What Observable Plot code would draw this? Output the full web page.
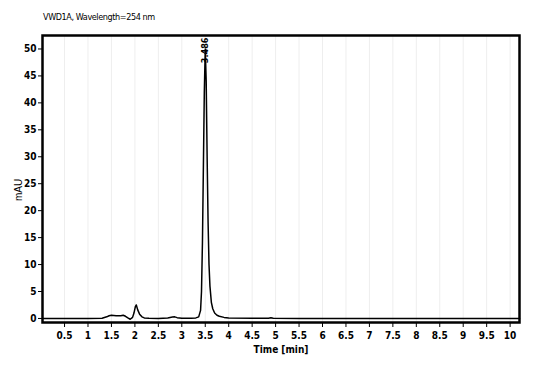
<!DOCTYPE html>
<html><head><meta charset="utf-8">
<script src="https://cdn.jsdelivr.net/npm/d3@7"></script>
<script src="https://cdn.jsdelivr.net/npm/@observablehq/plot@0.6"></script>
<style>
body{margin:0;background:#fff;}
#wrap{position:relative;width:544px;height:383px;}
#title{position:absolute;left:43px;top:12px;font:9px "DejaVu Sans Condensed","Liberation Sans Narrow",sans-serif;font-stretch:condensed;color:#000;letter-spacing:-0.4px;}
</style></head>
<body><div id="wrap"><div id="title">VWD1A, Wavelength=254 nm</div></div>
<script>
const times = [0.03,0.5,1.0,1.3,1.4,1.45,1.5,1.6,1.7,1.75,1.8,1.85,1.9,1.95,1.98,2.01,2.03,2.06,2.1,2.15,2.2,2.3,2.5,2.7,2.8,2.85,2.9,3.0,3.2,3.3,3.36,3.4,3.42,3.44,3.46,3.48,3.5,3.52,3.54,3.56,3.58,3.6,3.63,3.66,3.7,3.75,3.8,3.9,4.0,4.5,4.85,4.9,4.95,5.5,6.5,7.5,8.5,9.5,10.2];
const mAU  = [0.0,0.0,0.0,0.05,0.3,0.5,0.6,0.5,0.5,0.6,0.4,0.1,-0.15,0.2,1.0,2.2,2.5,1.6,0.8,0.3,0.1,0.05,0.0,0.1,0.25,0.3,0.15,0.05,0.05,0.1,0.3,1.5,5,14,28,42,50,44,30,18,10,6,3,1.8,1.0,0.6,0.4,0.2,0.1,0.05,0.05,0.15,0.05,0.0,0.0,0.0,0.0,0.0,0.0];
const xTicks = [0.5,1,1.5,2,2.5,3,3.5,4,4.5,5,5.5,6,6.5,7,7.5,8,8.5,9,9.5,10];
const yTicks = [0,5,10,15,20,25,30,35,40,45,50];
const peakTime = [3.5];
const peakLabel = ["3.486"];

const data = times.map((t,i)=>({t, v:mAU[i]}));
const font = '"DejaVu Sans Condensed","Liberation Sans Narrow",sans-serif';
const chart = Plot.plot({
  width:544, height:383,
  marginLeft:42, marginRight:25, marginTop:35, marginBottom:61,
  style:{fontFamily:font, fontSize:"10px", color:"#000", background:"transparent"},
  x:{domain:[0.03,10.2], ticks:xTicks, tickSize:5, tickPadding:4, tickFormat:d=>String(d), label:null},
  y:{domain:[-0.75,52.5], ticks:yTicks, tickSize:4, tickPadding:2, label:null},
  marks:[
    Plot.ruleX(xTicks,{stroke:"#eeeeee", strokeWidth:1}),
    Plot.line(data,{x:"t", y:"v", stroke:"#000", strokeWidth:1.5}),
    Plot.frame({stroke:"#000", strokeWidth:2.5}),
    Plot.text(peakTime,{x:d=>d, y:52.3, text:(d,i)=>peakLabel[i], rotate:-90, textAnchor:"end", dy:1, fontSize:9, fontWeight:"bold", fontFamily:font, fill:"#000"}),
    Plot.axisX({ticks:xTicks, tickSize:5, tickPadding:4, fontWeight:"bold", fontSize:10, tickFormat:d=>String(d), label:"Time [min]", labelAnchor:"center", labelOffset:30, labelArrow:"none", fontFamily:font}),
    Plot.axisY({ticks:yTicks, tickSize:4, tickPadding:2, fontWeight:"bold", fontSize:10, label:null, fontFamily:font})
  ]
});
document.getElementById("wrap").appendChild(chart);
const svg = d3.select(chart);
svg.style("position","absolute").style("left","0").style("top","0");
svg.append("text").attr("transform","translate(22,190) rotate(-90)").attr("text-anchor","middle")
  .attr("font-family",'"Liberation Sans",sans-serif').attr("font-size","10px").text("mAU");
</script></body></html>
